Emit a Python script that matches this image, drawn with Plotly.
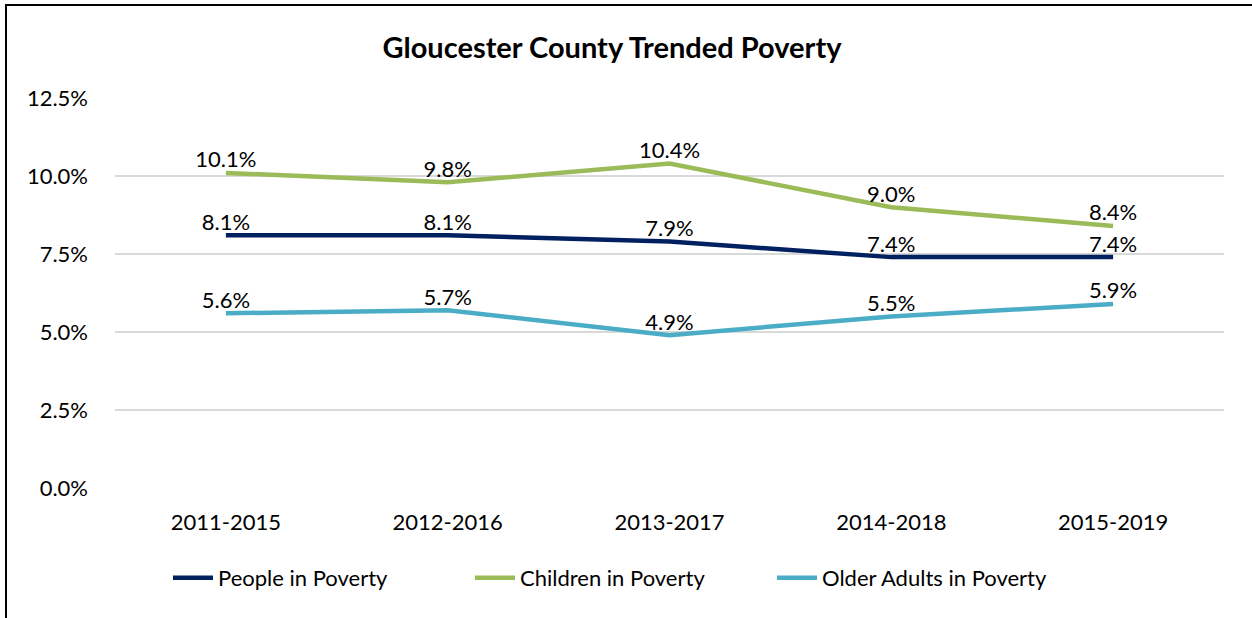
import plotly.graph_objects as go

categories = ["2011-2015", "2012-2016", "2013-2017", "2014-2018", "2015-2019"]
people = [8.1, 8.1, 7.9, 7.4, 7.4]
children = [10.1, 9.8, 10.4, 9.0, 8.4]
older = [5.6, 5.7, 4.9, 5.5, 5.9]
y_ticks = [0, 2.5, 5, 7.5, 10, 12.5]
y_tick_labels = ["0.0%", "2.5%", "5.0%", "7.5%", "10.0%", "12.5%"]

W, H = 1252, 618
ml, mr, mt, mb = 115, 28, 98, 130
pw, ph = W - ml - mr, H - mt - mb

font_family = "Lato, Open Sans, sans-serif"

fig = go.Figure()
series = [
    ("People in Poverty", people, "#002060"),
    ("Children in Poverty", children, "#9BBB59"),
    ("Older Adults in Poverty", older, "#4BACC6"),
]
for name, vals, color in series:
    fig.add_trace(go.Scatter(
        x=categories, y=vals, name=name, mode="lines+text",
        line=dict(color=color, width=4.5),
        text=[f"{v:.1f}%" for v in vals],
        textposition="top center",
        textfont=dict(size=22, color="#000000", family=font_family),
        cliponaxis=False,
    ))

def px_x(p):
    return (p - ml) / pw

def px_y(p):
    return (H - mb - p) / ph

fig.update_layout(
    width=W, height=H,
    margin=dict(l=ml, r=mr, t=mt, b=mb),
    paper_bgcolor="white", plot_bgcolor="white",
    font=dict(family=font_family, size=22, color="#000000"),
    title=dict(text="<b>Gloucester County Trended Poverty</b>", x=px_x(612), xanchor="center",
               xref="paper", y=1 - 48 / H, yanchor="middle",
               font=dict(size=29, family=font_family, color="#000000")),
    xaxis=dict(range=[-0.5, 4.5], showgrid=False, zeroline=False, showline=False,
               ticks="", tickfont=dict(size=22), ticklabelstandoff=19),
    yaxis=dict(range=[0, 12.5], tickvals=y_ticks, ticktext=y_tick_labels,
               showgrid=True, gridcolor="#D9D9D9", gridwidth=2, zeroline=False,
               showline=False, ticks="", ticklabelstandoff=26, tickfont=dict(size=22)),
    legend=dict(orientation="h", x=px_x(621), xanchor="center", xref="paper",
                y=px_y(578), yanchor="middle", font=dict(size=22), itemwidth=40,
                entrywidth=247, entrywidthmode="pixels", tracegroupgap=0),
    showlegend=True,
    shapes=[
        dict(type="line", xref="paper", yref="paper", x0=px_x(5), x1=px_x(1252), y0=px_y(5), y1=px_y(5),
             line=dict(color="black", width=2)),
        dict(type="line", xref="paper", yref="paper", x0=px_x(6), x1=px_x(6), y0=px_y(5), y1=px_y(618),
             line=dict(color="black", width=2)),
    ],
)

fig.write_html("out.html", post_script="document.body.style.margin='0';",
               config={"displayModeBar": False})
